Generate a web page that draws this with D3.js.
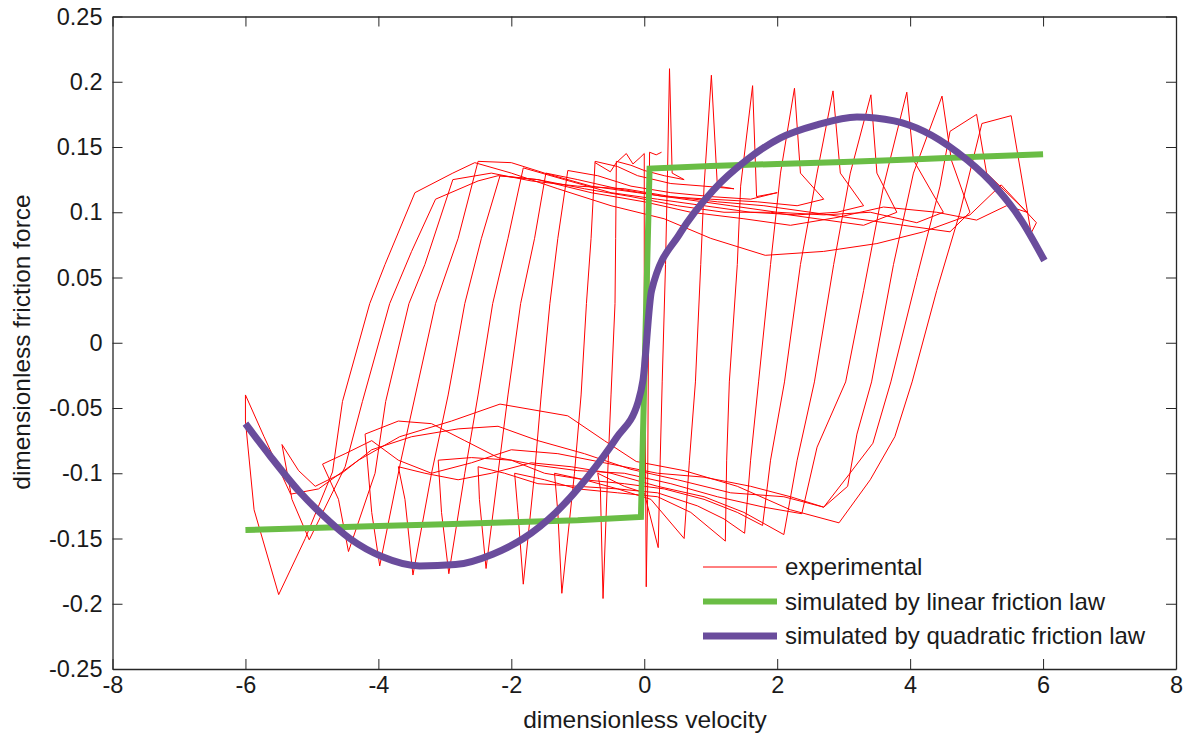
<!DOCTYPE html>
<html><head><meta charset="utf-8">
<script src="https://cdn.jsdelivr.net/npm/d3@7"></script>
<style>
html,body{margin:0;padding:0;background:#fff;}
svg{display:block;font-family:"Liberation Sans",Arial,Helvetica,sans-serif;}
</style></head>
<body>
<svg id="chart" width="1188" height="738"></svg>
<script>
// ---------- data ----------
const xTicks = [-8,-6,-4,-2,0,2,4,6,8];
const xTickLabels = ["-8","-6","-4","-2","0","2","4","6","8"];
const yTicks = [-0.25,-0.2,-0.15,-0.1,-0.05,0,0.05,0.1,0.15,0.2,0.25];
const yTickLabels = ["-0.25","-0.2","-0.15","-0.1","-0.05","0","0.05","0.1","0.15","0.2","0.25"];
const seriesNames = ["experimental","simulated by linear friction law","simulated by quadratic friction law"];

// experimental hysteresis loops [velocity, force]
const expLoop0 = [[-3.45,0.115],[-3.9,0.06],[-4.13,0.03],[-4.54,-0.045],[-4.69,-0.099],[-5.1,-0.15],[-5.5,-0.193],[-5.87,-0.128],[-6.0,-0.06],[-6.0,-0.04],[-5.72,-0.072],[-5.32,-0.116],[-4.9,-0.112],[-4.3,-0.09],[-3.68,-0.072],[-2.9,-0.06],[-2.17,-0.047],[-1.15,-0.056],[-0.6,-0.075],[-0.12,-0.091],[0.6,-0.098],[1.4,-0.11],[2.2,-0.128],[2.93,-0.138],[3.4,-0.105],[3.77,-0.072],[4.03,-0.03],[4.4,0.04],[4.75,0.1],[5.08,0.168],[5.52,0.174],[5.82,0.084],[5.9,0.092],[5.37,0.121],[4.9,0.098],[4.2,0.085],[3.5,0.076],[2.7,0.07],[1.82,0.067],[1.0,0.08],[0.3,0.095],[-0.5,0.105],[-1.3,0.118],[-2.0,0.13],[-2.55,0.138],[-2.88,0.13],[-3.45,0.115]];
const expLoop1 = [[-3.14,0.110],[-3.5,0.07],[-3.83,0.03],[-4.24,-0.045],[-4.5,-0.095],[-5.04,-0.151],[-5.3,-0.12],[-5.45,-0.078],[-5.2,-0.098],[-4.95,-0.11],[-4.55,-0.1],[-4.1,-0.082],[-3.5,-0.072],[-2.8,-0.066],[-2.2,-0.064],[-1.6,-0.075],[-0.9,-0.085],[-0.2,-0.097],[0.5,-0.105],[1.3,-0.115],[2.1,-0.118],[2.7,-0.126],[3.08,-0.101],[3.44,-0.077],[3.71,-0.03],[4.1,0.05],[4.45,0.12],[4.6,0.162],[5.0,0.175],[5.15,0.13],[5.76,0.10],[5.45,0.105],[5.0,0.094],[4.4,0.1],[3.6,0.104],[2.9,0.096],[2.2,0.09],[1.5,0.095],[0.7,0.1],[0.0,0.108],[-0.8,0.115],[-1.6,0.125],[-2.2,0.128],[-2.5,0.124],[-3.14,0.110]];
const expLoop2 = [[-2.88,0.125],[-3.3,0.06],[-3.54,0.03],[-3.89,-0.045],[-4.05,-0.1],[-4.45,-0.16],[-4.6,-0.12],[-4.84,-0.093],[-4.5,-0.085],[-4.1,-0.075],[-3.7,-0.09],[-3.2,-0.1],[-2.6,-0.092],[-2.0,-0.082],[-1.3,-0.085],[-0.6,-0.092],[0.2,-0.1],[0.9,-0.103],[1.6,-0.11],[2.2,-0.118],[2.7,-0.126],[3.06,-0.11],[3.2,-0.07],[3.42,-0.03],[3.75,0.06],[4.05,0.13],[4.48,0.189],[4.62,0.14],[4.9,0.1],[4.6,0.085],[3.9,0.09],[3.2,0.095],[2.5,0.1],[1.8,0.105],[1.1,0.108],[0.4,0.112],[-0.3,0.118],[-1.0,0.12],[-1.7,0.124],[-2.3,0.13],[-2.88,0.125]];
const expLoop3 = [[-2.5,0.139],[-2.8,0.08],[-3.14,0.03],[-3.4,-0.03],[-3.66,-0.09],[-3.98,-0.171],[-4.1,-0.13],[-4.2,-0.07],[-3.7,-0.06],[-3.2,-0.062],[-2.7,-0.075],[-2.2,-0.088],[-1.6,-0.094],[-1.0,-0.098],[-0.3,-0.1],[0.4,-0.108],[1.1,-0.118],[1.8,-0.126],[2.37,-0.131],[2.6,-0.08],[3.03,-0.03],[3.3,0.04],[3.6,0.12],[3.95,0.192],[4.05,0.14],[4.5,0.1],[4.1,0.092],[3.4,0.1],[2.7,0.098],[2.0,0.1],[1.3,0.105],[0.6,0.11],[-0.1,0.115],[-0.8,0.12],[-1.5,0.13],[-2.0,0.138],[-2.5,0.139]];
const expLoop4 = [[-2.17,0.128],[-2.45,0.08],[-2.7,0.03],[-2.95,-0.04],[-3.2,-0.1],[-3.48,-0.178],[-3.6,-0.12],[-3.7,-0.095],[-3.3,-0.1],[-2.8,-0.105],[-2.3,-0.1],[-1.7,-0.092],[-1.1,-0.095],[-0.5,-0.1],[0.2,-0.11],[0.9,-0.118],[1.5,-0.13],[2.1,-0.147],[2.3,-0.09],[2.56,-0.03],[2.85,0.06],[3.1,0.13],[3.41,0.19],[3.5,0.13],[3.8,0.1],[3.3,0.09],[2.6,0.095],[1.9,0.1],[1.2,0.1],[0.5,0.105],[-0.2,0.112],[-0.9,0.118],[-1.6,0.125],[-2.17,0.128]];
const expLoop5 = [[-1.82,0.134],[-2.05,0.08],[-2.28,0.03],[-2.5,-0.04],[-2.7,-0.1],[-2.94,-0.177],[-3.05,-0.13],[-3.1,-0.09],[-2.6,-0.088],[-2.0,-0.09],[-1.5,-0.1],[-0.9,-0.105],[-0.3,-0.108],[0.3,-0.112],[0.9,-0.12],[1.4,-0.13],[1.78,-0.14],[1.9,-0.09],[2.11,-0.03],[2.35,0.06],[2.6,0.13],[2.84,0.193],[2.95,0.13],[3.3,0.105],[2.9,0.1],[2.3,0.098],[1.6,0.1],[0.9,0.105],[0.2,0.11],[-0.5,0.115],[-1.2,0.125],[-1.82,0.134]];
const expLoop6 = [[-1.48,0.13],[-1.65,0.08],[-1.86,0.03],[-2.05,-0.04],[-2.2,-0.1],[-2.38,-0.173],[-2.48,-0.12],[-2.5,-0.095],[-2.1,-0.1],[-1.6,-0.108],[-1.0,-0.11],[-0.4,-0.112],[0.2,-0.115],[0.8,-0.125],[1.2,-0.135],[1.51,-0.146],[1.6,-0.09],[1.72,-0.03],[1.9,0.06],[2.05,0.13],[2.26,0.195],[2.35,0.13],[2.7,0.11],[2.3,0.105],[1.7,0.108],[1.0,0.11],[0.3,0.112],[-0.4,0.118],[-1.0,0.125],[-1.48,0.13]];
const expLoop7 = [[-1.15,0.132],[-1.3,0.08],[-1.42,0.03],[-1.55,-0.04],[-1.65,-0.1],[-1.82,-0.185],[-1.9,-0.13],[-1.95,-0.1],[-1.5,-0.105],[-1.0,-0.112],[-0.4,-0.115],[0.2,-0.118],[0.7,-0.13],[1.22,-0.152],[1.24,-0.09],[1.28,-0.03],[1.4,0.06],[1.45,0.12],[1.63,0.197],[1.69,0.112],[2.0,0.115],[1.6,0.11],[1.0,0.112],[0.4,0.115],[-0.2,0.12],[-0.7,0.128],[-1.15,0.132]];
const expLoop8 = [[-0.74,0.139],[-0.8,0.08],[-0.87,0.03],[-0.95,-0.04],[-1.05,-0.1],[-1.24,-0.192],[-1.3,-0.13],[-1.35,-0.1],[-0.9,-0.105],[-0.4,-0.112],[0.1,-0.12],[0.6,-0.15],[0.68,-0.09],[0.77,-0.03],[0.85,0.06],[0.9,0.12],[1.01,0.205],[1.1,0.12],[1.35,0.118],[0.9,0.12],[0.4,0.122],[-0.1,0.128],[-0.4,0.135],[-0.74,0.139]];
const expLoop9 = [[-0.42,0.139],[-0.43,0.08],[-0.44,0.03],[-0.5,-0.04],[-0.55,-0.1],[-0.62,-0.196],[-0.66,-0.112],[-0.7,-0.1],[-0.3,-0.11],[0.0,-0.115],[0.21,-0.157],[0.24,-0.09],[0.27,-0.03],[0.32,0.06],[0.35,0.13],[0.38,0.21],[0.42,0.13],[0.6,0.125],[0.3,0.128],[0.0,0.132],[-0.2,0.136],[-0.42,0.139]];
const expLoop10 = [[-0.74,0.138],[-0.51,0.131],[-0.42,0.138],[-0.27,0.145],[-0.17,0.137],[-0.06,0.142],[0.0,0.145],[0.0,0.03],[0.02,-0.1],[0.03,-0.187],[0.05,-0.12],[0.08,0.146],[0.18,0.144],[0.26,0.146]];
const experimental = [expLoop0,expLoop1,expLoop2,expLoop3,expLoop4,expLoop5,expLoop6,expLoop7,expLoop8,expLoop9,expLoop10];

// simulated, linear friction law
const linVel   = [-6,-5,-4,-3,-2,-1,-0.05,0.08,1,2,3,4,5,6];
const linForce = [-0.1435,-0.142,-0.1405,-0.139,-0.1375,-0.136,-0.1335,0.1335,0.1355,0.137,0.1385,0.1405,0.1425,0.1445];

// simulated, quadratic friction law
const quadVel   = [-6.0,-5.64,-5.19,-4.84,-4.43,-3.94,-3.38,-2.84,-2.28,-1.82,-1.33,-0.87,-0.42,-0.09,-0.02,0.11,0.54,1.04,1.54,2.05,2.6,3.2,3.76,4.21,4.71,5.22,5.67,6.02];
const quadForce = [-0.062,-0.086,-0.114,-0.132,-0.150,-0.164,-0.171,-0.170,-0.162,-0.150,-0.130,-0.104,-0.073,-0.045,-0.029,0.040,0.084,0.117,0.140,0.157,0.167,0.173,0.170,0.162,0.146,0.123,0.094,0.063];

// ---------- drawing ----------
const svg = d3.select("#chart");
const x = d3.scaleLinear().domain([-8,8]).range([112.5,1176]);
const y = d3.scaleLinear().domain([-0.25,0.25]).range([669,16.5]);
const axisColor = "#262626";
const fontTick = 23.5;

const line = d3.line().x(d=>x(d[0])).y(d=>y(d[1]));
const gData = svg.append("g");
gData.selectAll("path.exp").data(experimental).join("path")
  .attr("class","exp").attr("d",line)
  .attr("fill","none").attr("stroke","#ff0000").attr("stroke-width",1)
  .attr("stroke-linejoin","miter");

const linData = linVel.map((v,i)=>[v,linForce[i]]);
gData.append("path").datum(linData).attr("d",line)
  .attr("fill","none").attr("stroke","#6abd45").attr("stroke-width",6);

const quadData = quadVel.map((v,i)=>[v,quadForce[i]]);
gData.append("path").datum(quadData).attr("d",d3.line().curve(d3.curveMonotoneX).x(d=>x(d[0])).y(d=>y(d[1])))
  .attr("fill","none").attr("stroke","#6a4c9c").attr("stroke-width",7);

// axes
function styleAxis(g){
  g.selectAll(".domain").attr("stroke",axisColor).attr("stroke-width",1.3);
  g.selectAll(".tick line").attr("stroke",axisColor).attr("stroke-width",1);
  g.selectAll(".tick text").attr("fill","#1a1a1a").style("font-size",fontTick+"px")
   .style("font-family","'Liberation Sans',Arial,sans-serif");
}
const yFmt = d => yTickLabels[yTicks.findIndex(t=>Math.abs(t-d)<1e-9)];
const xFmt = d => xTickLabels[xTicks.findIndex(t=>Math.abs(t-d)<1e-9)];
svg.append("g").attr("transform","translate(112.5,0)")
  .call(d3.axisLeft(y).tickValues(yTicks).tickFormat(yFmt).tickSize(-10).tickSizeOuter(0).tickPadding(10))
  .call(styleAxis);
svg.append("g").attr("transform","translate(1176,0)")
  .call(d3.axisRight(y).tickValues(yTicks).tickFormat("").tickSize(-10).tickSizeOuter(0))
  .call(styleAxis);
svg.append("g").attr("transform","translate(0,669)")
  .call(d3.axisBottom(x).tickValues(xTicks).tickFormat(xFmt).tickSize(-10).tickSizeOuter(0).tickPadding(7))
  .call(styleAxis);
svg.append("g").attr("transform","translate(0,16.5)")
  .call(d3.axisTop(x).tickValues(xTicks).tickFormat("").tickSize(-10).tickSizeOuter(0))
  .call(styleAxis);

// axis labels
svg.append("text").attr("x",645).attr("y",728).attr("text-anchor","middle")
  .style("font-size","24.5px").attr("fill","#1a1a1a").text("dimensionless velocity");
svg.append("text").attr("transform","translate(30,342) rotate(-90)").attr("text-anchor","middle")
  .style("font-size","24.5px").attr("fill","#1a1a1a").text("dimensionless friction force");

// legend
const legendStyles = [
  {color:"#ff0000", width:1},
  {color:"#6abd45", width:6},
  {color:"#6a4c9c", width:7}
];
const lg = svg.append("g").attr("transform","translate(703,567)");
seriesNames.forEach((name,i)=>{
  const row = lg.append("g").attr("transform",`translate(0,${i*34.5})`);
  row.append("line").attr("x1",0).attr("x2",74).attr("y1",0).attr("y2",0)
    .attr("stroke",legendStyles[i].color).attr("stroke-width",legendStyles[i].width);
  row.append("text").attr("x",82).attr("y",0).attr("dy","0.35em")
    .style("font-size","24px").attr("fill","#1a1a1a").text(name);
});
</script>
</body></html>
